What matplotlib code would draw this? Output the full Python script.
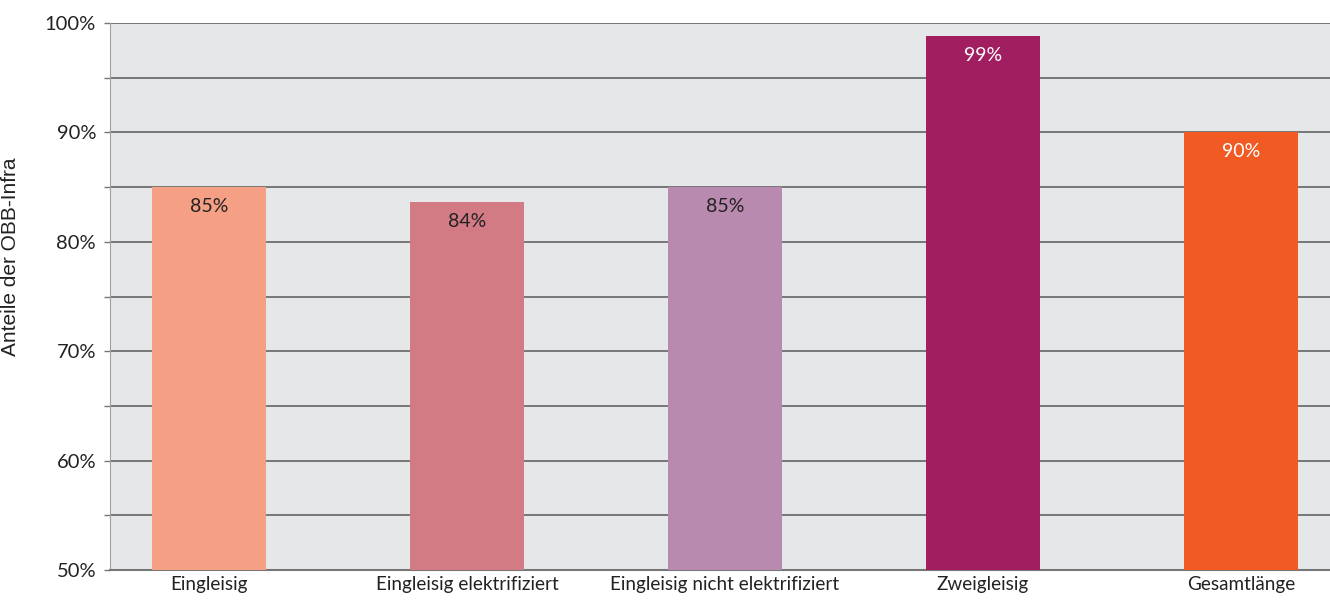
import matplotlib

matplotlib.use("Agg")

import matplotlib.pyplot as plt
import numpy as np
from matplotlib.ticker import FuncFormatter, MultipleLocator

categories = [
    "Eingleisig",
    "Eingleisig elektrifiziert",
    "Eingleisig nicht elektrifiziert",
    "Zweigleisig",
    "Gesamtlänge",
]
values = [85.0, 83.6, 85.0, 98.8, 90.0]
labels = ["85%", "84%", "85%", "99%", "90%"]
colors = ["#F5A085", "#D37B84", "#B98AAF", "#A11F60", "#F15A22"]
label_colors = ["#222222", "#222222", "#222222", "#FFFFFF", "#FFFFFF"]

plt.rcParams["font.family"] = ["Lato", "DejaVu Sans"]

fig = plt.figure(figsize=(13.3, 6.01), dpi=100)
ax = fig.add_axes([0.0827, 0.0516, 0.9173, 0.9101])
ax.set_facecolor("#E6E7E9")

x = np.arange(len(categories))
ax.bar(x, [v - 50 for v in values], bottom=50, width=0.442, color=colors, zorder=3)

for xi, v, lab, c in zip(x, values, labels, label_colors):
    ax.annotate(lab, (xi, v), xytext=(0, -19), textcoords="offset pixels",
                ha="center", va="center", fontsize=14, color=c, zorder=4)

ax.set_xlim(-0.384, 4.345)
ax.set_ylim(50, 100)
ax.yaxis.set_major_locator(MultipleLocator(10))
ax.yaxis.set_minor_locator(MultipleLocator(5))
ax.yaxis.set_major_formatter(FuncFormatter(lambda v, _: f"{v:.0f}%"))
ax.grid(axis="y", which="both", color="#767676", linewidth=1.4, zorder=1)
ax.tick_params(axis="y", which="both", length=4, width=1, color="#767676",
               labelsize=14.5, labelcolor="#222222", pad=6)
ax.tick_params(axis="x", length=0, labelsize=13.6, labelcolor="#222222", pad=4)
ax.set_xticks(x)
ax.set_xticklabels(categories)

ax.set_ylabel("Anteile der ÖBB-Infra", fontsize=15, color="#222222",
              family=["Liberation Sans", "DejaVu Sans"])
ax.yaxis.set_label_coords(-0.0738, 0.572)

for side in ["top", "right"]:
    ax.spines[side].set_visible(False)
ax.spines["left"].set_color("#A0A0A0")
ax.spines["bottom"].set_color("#767676")
ax.spines["bottom"].set_linewidth(1.5)

fig.savefig("out.png", dpi=100)
